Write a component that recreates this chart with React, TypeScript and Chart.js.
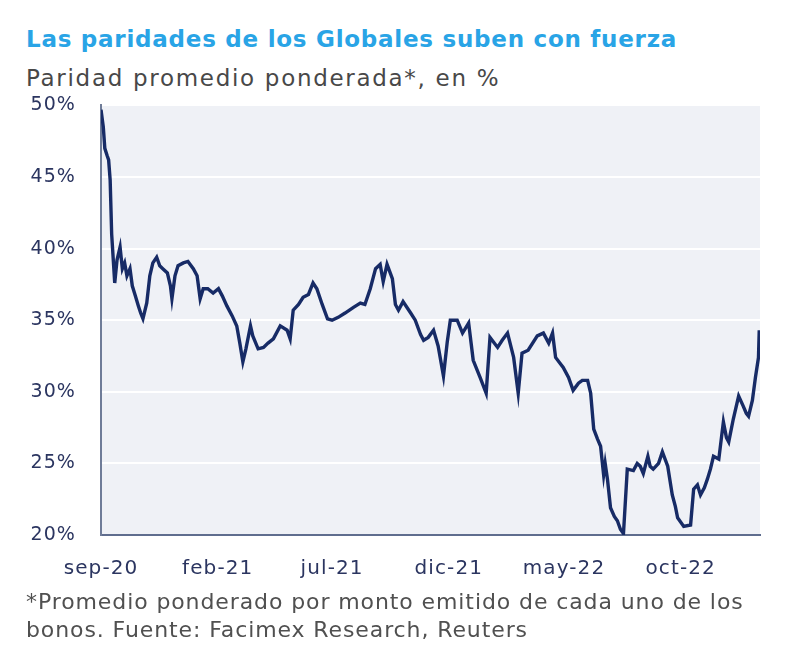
import { useEffect, useRef } from "react"
import { Chart, registerables } from "chart.js"

Chart.register(...registerables)

// Paridad promedio ponderada de los Globales, en %
const fechas = [
  "2020-09-01", "2020-09-04", "2020-09-06", "2020-09-09", "2020-09-11", "2020-09-13", "2020-09-15", "2020-09-19",
  "2020-09-22", "2020-09-26", "2020-09-29", "2020-10-02", "2020-10-05", "2020-10-09", "2020-10-12", "2020-10-16",
  "2020-10-20", "2020-10-23", "2020-10-26", "2020-10-31", "2020-11-04", "2020-11-08", "2020-11-13", "2020-11-17",
  "2020-11-21", "2020-11-27", "2020-12-01", "2020-12-03", "2020-12-07", "2020-12-11", "2020-12-18", "2020-12-24",
  "2020-12-31", "2021-01-05", "2021-01-09", "2021-01-13", "2021-01-19", "2021-01-26", "2021-02-02", "2021-02-07",
  "2021-02-13", "2021-02-20", "2021-02-26", "2021-03-02", "2021-03-06", "2021-03-10", "2021-03-16", "2021-03-19",
  "2021-03-26", "2021-04-02", "2021-04-08", "2021-04-15", "2021-04-24", "2021-05-03", "2021-05-07", "2021-05-11",
  "2021-05-18", "2021-05-24", "2021-05-31", "2021-06-06", "2021-06-11", "2021-06-18", "2021-06-25", "2021-07-01",
  "2021-07-09", "2021-07-18", "2021-07-29", "2021-08-07", "2021-08-13", "2021-08-20", "2021-08-27", "2021-09-02",
  "2021-09-06", "2021-09-11", "2021-09-18", "2021-09-22", "2021-09-26", "2021-10-02", "2021-10-12", "2021-10-18",
  "2021-10-25", "2021-10-29", "2021-11-04", "2021-11-11", "2021-11-17", "2021-11-24", "2021-11-29", "2021-12-03",
  "2021-12-12", "2021-12-19", "2021-12-27", "2022-01-02", "2022-01-11", "2022-01-19", "2022-01-24", "2022-02-03",
  "2022-02-09", "2022-02-16", "2022-02-24", "2022-03-02", "2022-03-07", "2022-03-15", "2022-03-27", "2022-04-04",
  "2022-04-11", "2022-04-16", "2022-04-20", "2022-04-30", "2022-05-07", "2022-05-13", "2022-05-20", "2022-05-25",
  "2022-06-01", "2022-06-05", "2022-06-09", "2022-06-14", "2022-06-18", "2022-06-22", "2022-06-24", "2022-06-27",
  "2022-07-01", "2022-07-06", "2022-07-10", "2022-07-14", "2022-07-18", "2022-07-23", "2022-07-31", "2022-08-05",
  "2022-08-09", "2022-08-13", "2022-08-19", "2022-08-22", "2022-08-26", "2022-09-02", "2022-09-07", "2022-09-14",
  "2022-09-20", "2022-09-24", "2022-09-27", "2022-10-05", "2022-10-14", "2022-10-18", "2022-10-23", "2022-10-27",
  "2022-11-01", "2022-11-05", "2022-11-09", "2022-11-13", "2022-11-20", "2022-11-26", "2022-11-30", "2022-12-03",
  "2022-12-09", "2022-12-16", "2022-12-22", "2022-12-26", "2022-12-29", "2023-01-03", "2023-01-07", "2023-01-11",
  "2023-01-12",
]

const paridad = [
  49.7, 48.5, 47.0, 46.5, 46.2, 44.8, 41.0, 37.6,
  39.2, 40.1, 38.6, 39.0, 38.1, 38.6, 37.4, 36.7,
  36.0, 35.5, 35.1, 36.2, 38.1, 39.0, 39.4, 38.8,
  38.6, 38.3, 37.4, 36.5, 38.1, 38.8, 39.0, 39.1,
  38.6, 38.1, 36.5, 37.2, 37.2, 36.9, 37.2, 36.7,
  36.0, 35.3, 34.6, 33.4, 32.1, 33.0, 34.6, 33.9,
  33.0, 33.1, 33.4, 33.7, 34.6, 34.3, 33.7, 35.7,
  36.1, 36.6, 36.8, 37.6, 37.2, 36.1, 35.1, 35.0,
  35.2, 35.5, 35.9, 36.2, 36.1, 37.2, 38.6, 38.9,
  37.7, 38.9, 37.9, 36.1, 35.7, 36.3, 35.5, 35.0,
  34.0, 33.6, 33.8, 34.3, 33.2, 31.1, 33.5, 35.0,
  35.0, 34.1, 34.8, 32.2, 31.0, 29.9, 33.8, 33.1,
  33.6, 34.1, 32.4, 29.9, 32.7, 32.9, 33.9, 34.1,
  33.4, 34.1, 32.4, 31.7, 31.0, 30.1, 30.6, 30.8,
  30.8, 29.9, 27.4, 26.7, 26.2, 24.2, 25.0, 23.9,
  21.9, 21.3, 21.0, 20.4, 20.1, 24.6, 24.5, 25.0,
  24.8, 24.3, 25.5, 24.8, 24.6, 25.0, 25.8, 24.8,
  22.8, 22.0, 21.2, 20.6, 20.7, 23.2, 23.5, 22.8,
  23.3, 23.9, 24.6, 25.5, 25.3, 27.9, 26.8, 26.5,
  28.1, 29.7, 29.0, 28.5, 28.3, 29.4, 31.0, 32.4,
  34.3,
]

const tickFechas = ["2020-09-01", "2021-02-01", "2021-07-01", "2021-12-01", "2022-05-01", "2022-10-01"]
const tickLabels = ["sep-20", "feb-21", "jul-21", "dic-21", "may-22", "oct-22"]
const yTicks = [20, 25, 30, 35, 40, 45, 50]

const inicio = "2020-09-01"
const fin = "2023-01-13"

const dia = (f: string) => Date.parse(f) / 86400000

const FONT = "'DejaVu Sans', sans-serif"

// fondo gris del área de gráfico + espaciado de letras para los ticks
const plotBackground = {
  id: "plotBackground",
  beforeLayout(chart: Chart) {
    ;(chart.ctx as any).letterSpacing = "1.1px"
  },
  beforeDraw(chart: Chart) {
    const { ctx, chartArea } = chart
    ;(ctx as any).letterSpacing = "1.1px"
    ctx.save()
    ctx.fillStyle = "#eff1f6"
    ctx.fillRect(chartArea.left, chartArea.top, chartArea.right - chartArea.left, chartArea.bottom - chartArea.top)
    ctx.restore()
  },
}

export default function App() {
  const chartRef = useRef<HTMLCanvasElement>(null)
  const chartInstance = useRef<Chart | null>(null)

  useEffect(() => {
    document.body.style.margin = "0"
    if (!chartRef.current) return
    if (chartInstance.current) chartInstance.current.destroy()

    const ctx = chartRef.current.getContext("2d")
    if (!ctx) return

    const tickDias = tickFechas.map(dia)

    chartInstance.current = new Chart(ctx, {
      type: "line",
      data: {
        datasets: [
          {
            label: "Paridad promedio ponderada",
            data: fechas.map((f, i) => ({ x: dia(f), y: paridad[i] })),
            borderColor: "#172b66",
            borderWidth: 3.4,
            pointRadius: 0,
            tension: 0,
            fill: false,
          },
        ],
      },
      options: {
        animation: false,
        responsive: false,
        maintainAspectRatio: false,
        layout: { padding: { top: 0, right: 40, left: 0, bottom: 0 } },
        plugins: {
          legend: { display: false },
          tooltip: { enabled: false },
        },
        scales: {
          x: {
            type: "linear",
            min: dia(inicio),
            max: dia(fin),
            afterBuildTicks: (scale: any) => {
              scale.ticks = tickDias.map((v) => ({ value: v }))
            },
            afterFit: (scale: any) => {
              scale.height = 55
            },
            grid: { display: false, drawTicks: false },
            border: { display: true, color: "#5f6d8e", width: 2 },
            ticks: {
              autoSkip: false,
              maxRotation: 0,
              padding: 22,
              color: "#2b3560",
              font: { family: FONT, size: 20 },
              callback: (v: any) => tickLabels[tickDias.indexOf(Number(v))] ?? "",
            },
          },
          y: {
            min: 20,
            max: 50,
            afterBuildTicks: (scale: any) => {
              scale.ticks = yTicks.map((v) => ({ value: v }))
            },
            afterFit: (scale: any) => {
              scale.width = 101
            },
            grid: { color: "#ffffff", lineWidth: 2, drawTicks: false },
            border: { display: true, color: "#6f7c98", width: 2 },
            ticks: {
              padding: 25,
              color: "#2b3560",
              font: { family: FONT, size: 19 },
              callback: (v: any) => `${v}%`,
            },
          },
        },
      },
      plugins: [plotBackground],
    })

    return () => {
      if (chartInstance.current) {
        chartInstance.current.destroy()
        chartInstance.current = null
      }
    }
  }, [])

  return (
    <div style={{ position: "relative", width: 800, height: 647, background: "#ffffff", fontFamily: FONT, overflow: "hidden" }}>
      <div style={{ position: "absolute", left: 26, top: 25, fontSize: 23, lineHeight: "28px", fontWeight: 700, letterSpacing: "0.75px", color: "#29a4e6", whiteSpace: "nowrap" }}>
        Las paridades de los Globales suben con fuerza
      </div>
      <div style={{ position: "absolute", left: 26, top: 65, fontSize: 23, lineHeight: "26px", letterSpacing: "1.7px", color: "#484848", whiteSpace: "nowrap" }}>
        Paridad promedio ponderada*, en %
      </div>
      <canvas ref={chartRef} width={800} height={521} style={{ position: "absolute", left: 0, top: 69, width: 800, height: 521 }} />
      <div style={{ position: "absolute", left: 26, top: 588, fontSize: 22, lineHeight: "28px", letterSpacing: "0.9px", color: "#505050", whiteSpace: "nowrap" }}>
        *Promedio ponderado por monto emitido de cada uno de los
        <br />
        bonos. Fuente: Facimex Research, Reuters
      </div>
    </div>
  )
}
